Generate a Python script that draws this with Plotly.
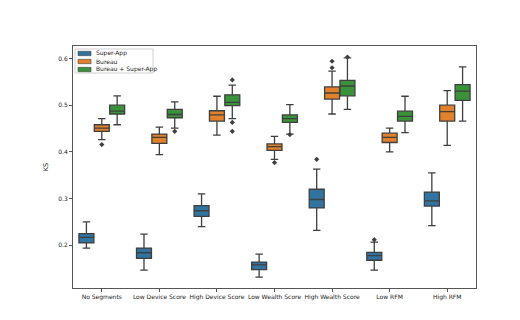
import plotly.graph_objects as go

categories = ["No Segments", "Low Device Score", "High Device Score", "Low Wealth Score",
              "High Wealth Score", "Low RFM", "High RFM"]
series = ["Super-App", "Bureau", "Bureau + Super-App"]

# box statistics per series, one value per category
sa_low = [0.194, 0.147, 0.240, 0.132, 0.232, 0.147, 0.242]
sa_q1 = [0.205, 0.172, 0.262, 0.148, 0.280, 0.168, 0.284]
sa_med = [0.217, 0.184, 0.274, 0.158, 0.298, 0.178, 0.295]
sa_q3 = [0.225, 0.194, 0.285, 0.164, 0.320, 0.185, 0.314]
sa_high = [0.250, 0.224, 0.310, 0.181, 0.363, 0.207, 0.355]
sa_out_cat = [4, 5]
sa_out_val = [0.384, 0.212]

bu_low = [0.426, 0.394, 0.436, 0.384, 0.481, 0.400, 0.414]
bu_q1 = [0.444, 0.418, 0.466, 0.403, 0.513, 0.420, 0.466]
bu_med = [0.451, 0.431, 0.479, 0.411, 0.526, 0.431, 0.486]
bu_q3 = [0.458, 0.438, 0.488, 0.417, 0.539, 0.440, 0.500]
bu_high = [0.471, 0.453, 0.519, 0.433, 0.573, 0.451, 0.531]
bu_out_cat = [0, 3, 4, 4]
bu_out_val = [0.4155, 0.377, 0.594, 0.580]

bs_low = [0.458, 0.451, 0.471, 0.438, 0.491, 0.441, 0.466]
bs_q1 = [0.481, 0.473, 0.499, 0.463, 0.520, 0.466, 0.510]
bs_med = [0.487, 0.480, 0.506, 0.471, 0.541, 0.476, 0.530]
bs_q3 = [0.500, 0.491, 0.522, 0.479, 0.553, 0.487, 0.544]
bs_high = [0.520, 0.507, 0.543, 0.501, 0.601, 0.519, 0.582]
bs_out_cat = [1, 2, 2, 2, 3, 4]
bs_out_val = [0.444, 0.554, 0.463, 0.444, 0.437, 0.603]

colors = ["#3274a1", "#e1812c", "#3a923a"]
line_col = "#3f3f3f"
offsets = [-0.267, 0.0, 0.267]

W, H = 520, 320
L, R, T, B = 65, 52, 38, 40

stats = [
    (sa_low, sa_q1, sa_med, sa_q3, sa_high, sa_out_cat, sa_out_val),
    (bu_low, bu_q1, bu_med, bu_q3, bu_high, bu_out_cat, bu_out_val),
    (bs_low, bs_q1, bs_med, bs_q3, bs_high, bs_out_cat, bs_out_val),
]

fig = go.Figure()
for k, (lo, q1, med, q3, hi, oc, ov) in enumerate(stats):
    xs = [i + offsets[k] for i in range(len(categories))]
    fig.add_trace(go.Box(
        x=xs, lowerfence=lo, q1=q1, median=med, q3=q3, upperfence=hi,
        name=series[k], width=0.26, whiskerwidth=0.5,
        fillcolor=colors[k], line=dict(color=line_col, width=1.3),
        boxpoints=False, hoverinfo="skip", showlegend=False,
    ))
    fig.add_trace(go.Scatter(
        x=[c + offsets[k] for c in oc], y=ov, mode="markers",
        marker=dict(symbol="diamond", size=4, color=line_col),
        showlegend=False, hoverinfo="skip",
    ))


# matplotlib-style legend, drawn in paper coords
def px(x):
    return (x - L) / (W - L - R)


def py(y):
    return (H - B - y) / (H - T - B)


fig.add_shape(type="rect", xref="paper", yref="paper",
              x0=px(67), x1=px(145), y0=py(65), y1=py(41),
              line=dict(color="#d0d0d0", width=1), fillcolor="white", layer="above")
for k, name in enumerate(series):
    yc = 45.5 + k * 8
    fig.add_shape(type="rect", xref="paper", yref="paper",
                  x0=px(70), x1=px(83), y0=py(yc + 2.2), y1=py(yc - 2.2),
                  line=dict(color=line_col, width=0.6), fillcolor=colors[k], layer="above")
    fig.add_annotation(xref="paper", yref="paper", x=px(86), y=py(yc),
                       text=name, showarrow=False, xanchor="left", yanchor="middle",
                       font=dict(size=6, color="#222"))

fig.update_layout(
    width=W, height=H,
    margin=dict(l=L, r=R, t=T, b=B),
    paper_bgcolor="white", plot_bgcolor="white",
    font=dict(family="DejaVu Sans", size=6, color="#222"),
    showlegend=False,
)
fig.update_xaxes(
    range=[-0.5, 6.5], tickvals=list(range(len(categories))), ticktext=categories,
    showline=True, mirror=True, linecolor="#555", linewidth=1,
    ticks="outside", ticklen=3, tickcolor="#555", showgrid=False, zeroline=False,
)
fig.update_yaxes(
    range=[0.1086, 0.6266], tickvals=[0.2, 0.3, 0.4, 0.5, 0.6],
    ticktext=["0.2", "0.3", "0.4", "0.5", "0.6"],
    title=dict(text="KS", font=dict(size=6.5), standoff=8),
    showline=True, mirror=True, linecolor="#555", linewidth=1,
    ticks="outside", ticklen=3, tickcolor="#555", showgrid=False, zeroline=False,
)

fig.write_html("out.html")
